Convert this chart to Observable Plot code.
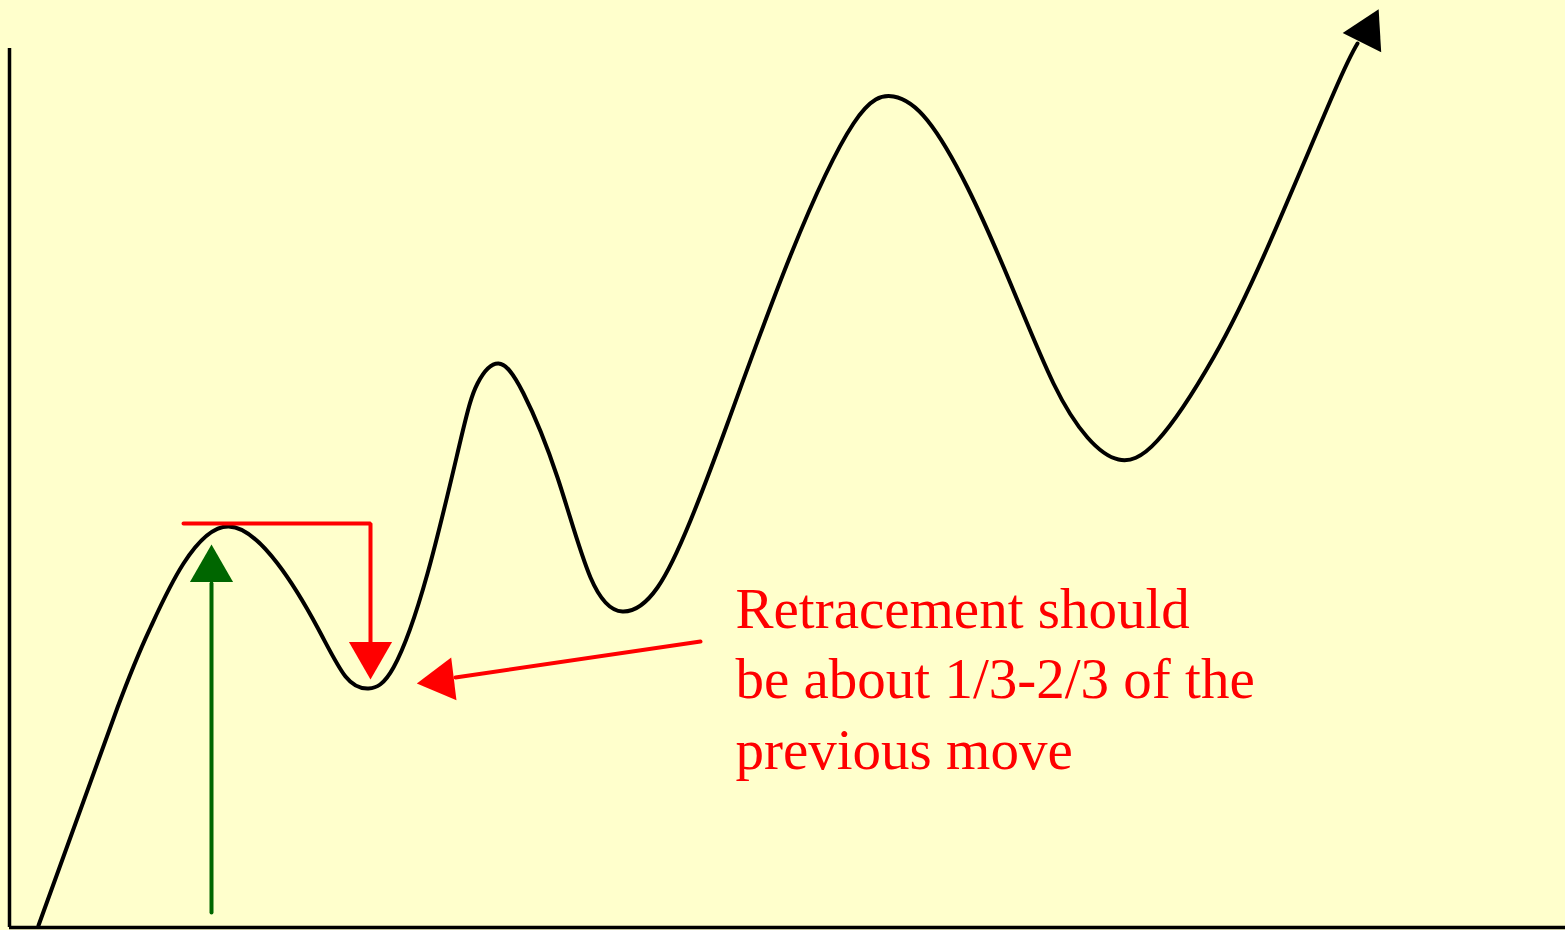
<!DOCTYPE html>
<html>
<head>
<meta charset="utf-8">
<script src="https://cdn.jsdelivr.net/npm/d3@7"></script>
<script src="https://cdn.jsdelivr.net/npm/@observablehq/plot@0.6"></script>
<style>
  html, body { margin: 0; padding: 0; background: #FFFFCC; }
  #chart svg { display: block; }
</style>
</head>
<body>
<div id="chart"></div>
<script>
// Price path (time t, price p)
const pathT = [3.8, 11.7, 15, 18.3, 22.8, 27.7, 31.7, 34.5, 36.8, 39.3, 42.7, 46, 47.7, 49.8, 52.3, 55.7, 59, 62.2, 65.7, 69, 72.7, 79, 85.3, 89.3, 92.7, 96.7, 101, 105.3, 108.7, 111.8, 115.7, 121.3, 126.7, 133.3, 135.7];
const pathP = [0.5, 22.3, 30.3, 36.7, 40.4, 36.7, 30.3, 25.4, 24.2, 26.3, 35.7, 49, 54.7, 56.7, 53.7, 45.3, 35.3, 31.9, 34.3, 41, 50.7, 67.5, 80.7, 83.4, 81, 74.3, 64.7, 54.7, 49.3, 47.1, 49, 57.3, 68.3, 83.7, 88.7];

// Annotations
const retraceT = [18.3, 37, 37];        // red bracket: peak level then down
const retraceP = [40.7, 40.7, 28.5];
const moveT = [21.1, 21.1];             // green: previous move
const moveP = [1.8, 34.7];
const pointerT = [70, 45.5];            // red pointer to the trough
const pointerP = [28.9, 25.3];
const headT = [136.7, 37, 21.1, 44.1];  // arrow heads
const headP = [89.9, 27.6, 36.1, 25.0];
const headAngle = [26.6, 180, 0, -97];
const headColor = ["#000000", "#FF0000", "#006600", "#FF0000"];
const labelLines = ["Retracement should", "be about 1/3-2/3 of the", "previous move"];
const labelT = [73.5];
const labelP = [16.2];

const path = pathT.map((t, i) => ({t, p: pathP[i]}));
const retrace = retraceT.map((t, i) => ({t, p: retraceP[i]}));
const move = moveT.map((t, i) => ({t, p: moveP[i]}));
const pointer = pointerT.map((t, i) => ({t, p: pointerP[i]}));
const heads = headT.map((t, i) => ({t, p: headP[i], a: headAngle[i], c: headColor[i]}));
const labels = [{t: labelT[0], p: labelP[0], text: labelLines.join("\n")}];

const chart = Plot.plot({
  width: 1565,
  height: 930,
  margin: 0,
  style: {background: "#FFFFCC", overflow: "visible"},
  x: {domain: [0, 156.5], range: [0, 1565], axis: null},
  y: {domain: [0, 93], range: [930, 0], axis: null},
  marks: [
    Plot.ruleX([0.9], {y1: 0.3, y2: 88.2, stroke: "#000", strokeWidth: 3.5}),
    Plot.ruleY([0.3], {x1: 0.9, x2: 156.5, stroke: "#000", strokeWidth: 3.5}),
    Plot.line(path, {x: "t", y: "p", curve: "natural", stroke: "#000", strokeWidth: 4}),
    Plot.line(retrace, {x: "t", y: "p", stroke: "#FF0000", strokeWidth: 4, strokeLinejoin: "miter"}),
    Plot.line(move, {x: "t", y: "p", stroke: "#006600", strokeWidth: 4}),
    Plot.line(pointer, {x: "t", y: "p", stroke: "#FF0000", strokeWidth: 4}),
    Plot.dot(heads, {x: "t", y: "p", symbol: "triangle", r: 16, rotate: "a", fill: "c", stroke: null}),
    Plot.text(labels, {x: "t", y: "p", text: "text", textAnchor: "start", lineAnchor: "bottom", lineHeight: 1.23,
      fontSize: 57, fontFamily: "Liberation Serif", fill: "#FF0000"})
  ]
});
document.getElementById("chart").appendChild(chart);
</script>
</body>
</html>
